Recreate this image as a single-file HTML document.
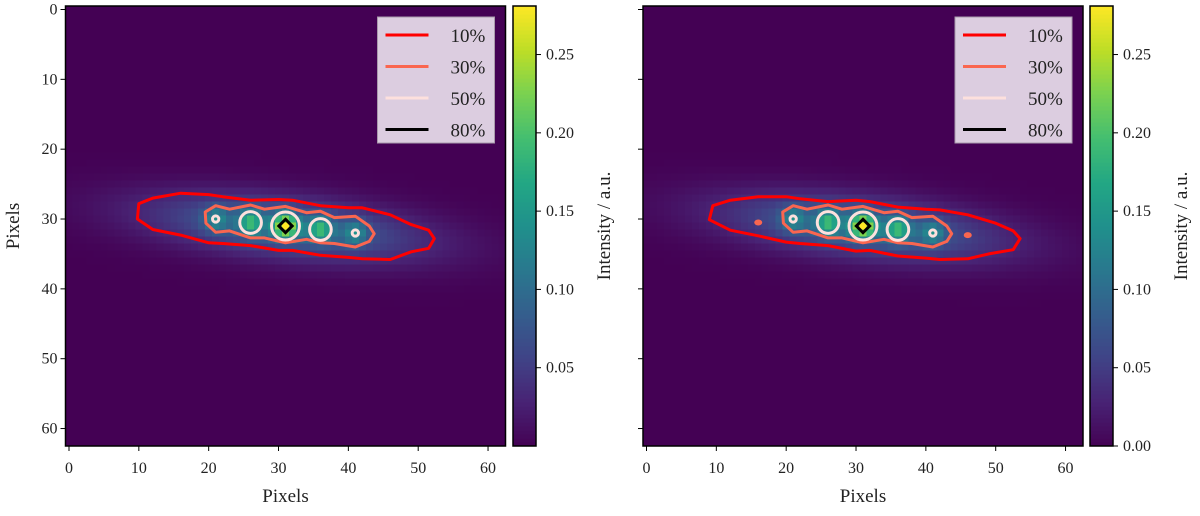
<!DOCTYPE html>
<html><head><meta charset="utf-8"><style>
body{margin:0;background:#fff;width:1200px;height:511px;overflow:hidden}
svg text{font-family:"Liberation Serif",serif;fill:#222}
</style></head><body>
<svg id="fig" width="1200" height="511" viewBox="0 0 1200 511" xmlns="http://www.w3.org/2000/svg"></svg>
<script>
// ---- data ----
const blobX = [21, 26, 31, 36, 41];
const blobY = [30, 30.5, 31, 31.5, 32];
const blobAmp = [0.07, 0.11, 0.19, 0.11, 0.07];
const haloCenter = [31, 31.2];
const haloAmp = [0.095];
const xTicks = [0, 10, 20, 30, 40, 50, 60];
const yTicks = [0, 10, 20, 30, 40, 50, 60];
const cbTicksL = [0.05, 0.10, 0.15, 0.20, 0.25];
const cbTicksR = [0.00, 0.05, 0.10, 0.15, 0.20, 0.25];
const legendLabels = ["10%", "30%", "50%", "80%"];
const legendColors = ["#ff0000", "#fa6650", "#fde0dd", "#000000"];
const c10L = [[10,27.8],[12,27.0],[16,26.3],[20,26.5],[22,26.8],[26,27.3],[30,27.2],[32,27.3],[36,28.1],[40,28.4],[42,28.4],[46,29.4],[49,30.8],[51.5,31.6],[52.3,32.8],[51.5,34.2],[49,34.7],[46,35.8],[42,35.7],[40,35.5],[36,35.2],[32,34.5],[30,34.5],[26,33.8],[22,33.5],[20,33.4],[16,32.3],[12,31.5],[9.8,30.0]];
const c10R = [[9.5,28.1],[12,27.3],[16,26.8],[20,26.8],[22,27.1],[26,27.5],[30,27.3],[32,27.5],[36,28.3],[40,28.6],[42,28.7],[46,29.4],[50,30.6],[52.5,31.7],[53.5,32.8],[52.5,34.4],[49,35],[46,35.7],[42,35.8],[40,35.6],[36,35.3],[32,34.5],[30,34.6],[26,33.8],[22,33.5],[20,33.3],[16,32.4],[12,31.6],[9,30.1]];
const c30 = [[19.5,29.0],[21,28.1],[23,28.6],[26,28.0],[28,28.6],[31,28.2],[34,29.1],[36,28.9],[38,29.8],[41,29.6],[43,31.0],[43.7,32.1],[43,33.2],[41,34],[38,33.5],[36,33.4],[34,32.9],[31,33.4],[28,32.7],[26,32.7],[23,31.7],[21,31.9],[19.6,30.6]];
const c30extraX = [16, 46];
const c30extraY = [30.5, 32.3];
const c50X = [21, 26, 31, 36, 41];
const c50Y = [30, 30.5, 31, 31.5, 32];
const c50R = [0.45, 1.55, 2.0, 1.55, 0.45];
const c80X = [31], c80Y = [31], c80R = [0.95];

const NS = "http://www.w3.org/2000/svg";
const svg = document.getElementById('fig');
function mk(tag, attrs, parent){const e=document.createElementNS(NS,tag);for(const k in attrs)e.setAttribute(k,attrs[k]);(parent||svg).appendChild(e);return e;}
const VIR = [[68,1,84],[72,35,116],[64,67,135],[52,94,141],[41,120,142],[32,144,140],[34,167,132],[68,190,112],[121,209,81],[189,222,38],[253,231,37]];
function vir(t){t=Math.max(0,Math.min(1,t));const f=t*(VIR.length-1);const i=Math.min(VIR.length-2,Math.floor(f));const r=f-i;const a=VIR[i],b=VIR[i+1];return `rgb(${Math.round(a[0]+(b[0]-a[0])*r)},${Math.round(a[1]+(b[1]-a[1])*r)},${Math.round(a[2]+(b[2]-a[2])*r)})`;}
const VMAX = 0.281;
function intensity(x,y){
  let v=0;
  const dx=x-haloCenter[0], dy=(y-haloCenter[1])-0.1*dx;
  v+=haloAmp[0]*Math.exp(-(dx*dx)/(2*14*14)-(dy*dy)/(2*3.0*3.0));
  for(let i=0;i<blobX.length;i++){const a=x-blobX[i],b=y-blobY[i];v+=blobAmp[i]*Math.exp(-(a*a+b*b)/(2*1.2*1.2));}
  return v;
}
function panel(ox, cbx, right){
  const W=440, H=440, top=6;
  const sx=v=>ox+(v+0.5)*W/63, sy=v=>top+(v+0.5)*H/63;
  const g=mk('g',{});
  const img=mk('g',{'shape-rendering':'crispEdges'},g);
  const cw=W/63;
  for(let j=0;j<63;j++)for(let i=0;i<63;i++){
    mk('rect',{x:(sx(i)-cw/2).toFixed(2),y:(sy(j)-cw/2).toFixed(2),width:(cw+0.3).toFixed(2),height:(cw+0.3).toFixed(2),fill:vir(intensity(i,j)/VMAX)},img);
  }
  const pts=a=>a.map(p=>sx(p[0]).toFixed(1)+','+sy(p[1]).toFixed(1)).join(' ');
  const c1=mk('polygon',{points:pts(right?c10R:c10L),fill:'none',stroke:'#ff0000','stroke-width':3,'stroke-linejoin':'round'},g);
  
  const c3=mk('polygon',{points:pts(c30),fill:'none',stroke:'#fa6650','stroke-width':3,'stroke-linejoin':'round'},g);
  
  if(right){for(let i=0;i<c30extraX.length;i++){const e=mk('ellipse',{cx:sx(c30extraX[i]),cy:sy(c30extraY[i]),rx:4,ry:3,fill:'#fa6650'},g);}}
  for(let i=0;i<c50X.length;i++){const e=mk('circle',{cx:sx(c50X[i]),cy:sy(c50Y[i]),r:c50R[i]*cw,fill:'none',stroke:'#fde0dd','stroke-width':3},g);}
  for(let i=0;i<c80X.length;i++){const r=c80R[i]*cw,cx=sx(c80X[i]),cy=sy(c80Y[i]);const e=mk('polygon',{points:`${cx},${cy-r} ${cx+r},${cy} ${cx},${cy+r} ${cx-r},${cy}`,fill:'none',stroke:'#000','stroke-width':3},g);}
  mk('rect',{x:ox,y:top,width:W,height:H,fill:'none',stroke:'#000','stroke-width':1.5},g);
  xTicks.forEach(t=>{mk('line',{x1:sx(t),x2:sx(t),y1:top+H,y2:top+H+5,stroke:'#000'},g);const tx=mk('text',{x:sx(t),y:473,'text-anchor':'middle','font-size':16},g);tx.textContent=t;});
  yTicks.forEach(t=>{mk('line',{x1:ox-5,x2:ox,y1:sy(t),y2:sy(t),stroke:'#000'},g);if(!right){const tx=mk('text',{x:ox-8,y:sy(t)+5,'text-anchor':'end','font-size':16},g);tx.textContent=t;}});
  const xl=mk('text',{x:ox+W/2,y:502,'text-anchor':'middle','font-size':19},g);xl.textContent='Pixels';
  if(!right){const yl=mk('text',{x:0,y:0,'text-anchor':'middle','font-size':19,transform:`translate(19,${top+H/2}) rotate(-90)`},g);yl.textContent='Pixels';}
  const lg=mk('g',{},g);
  const lx=ox+W-128;
  mk('rect',{x:lx,y:17,width:117,height:126,fill:'#dccde0',stroke:'#a99aac','stroke-width':1},lg);
  legendLabels.forEach((l,i)=>{const y=35+i*31.5;mk('line',{x1:lx+8,x2:lx+51,y1:y,y2:y,stroke:legendColors[i],'stroke-width':3},lg);const t=mk('text',{x:lx+73,y:y+7,'font-size':19},lg);t.textContent=l;});
  const cb=mk('g',{},g);
  const cbH=H, cy=v=>top+H-v/VMAX*cbH;
  for(let k=0;k<110;k++){const v0=k/110*VMAX;mk('rect',{x:cbx,y:cy(v0+VMAX/110)-0.3,width:23,height:cbH/110+0.6,fill:vir(v0/VMAX+0.5/110),'shape-rendering':'crispEdges'},cb);}
  mk('rect',{x:cbx,y:top,width:23,height:cbH,fill:'none',stroke:'#000','stroke-width':1.5},cb);
  (right?cbTicksR:cbTicksL).forEach(t=>{mk('line',{x1:cbx+23,x2:cbx+28,y1:cy(t),y2:cy(t),stroke:'#000'},cb);const tx=mk('text',{x:cbx+33,y:cy(t)+5,'font-size':16},cb);tx.textContent=t.toFixed(2);});
  const cl=mk('text',{x:0,y:0,'text-anchor':'middle','font-size':19,transform:`translate(${cbx+97},${top+H/2}) rotate(-90)`},cb);cl.textContent='Intensity / a.u.';
}
panel(65.5, 513, false);
panel(643, 1090, true);
</script>
</body></html>
